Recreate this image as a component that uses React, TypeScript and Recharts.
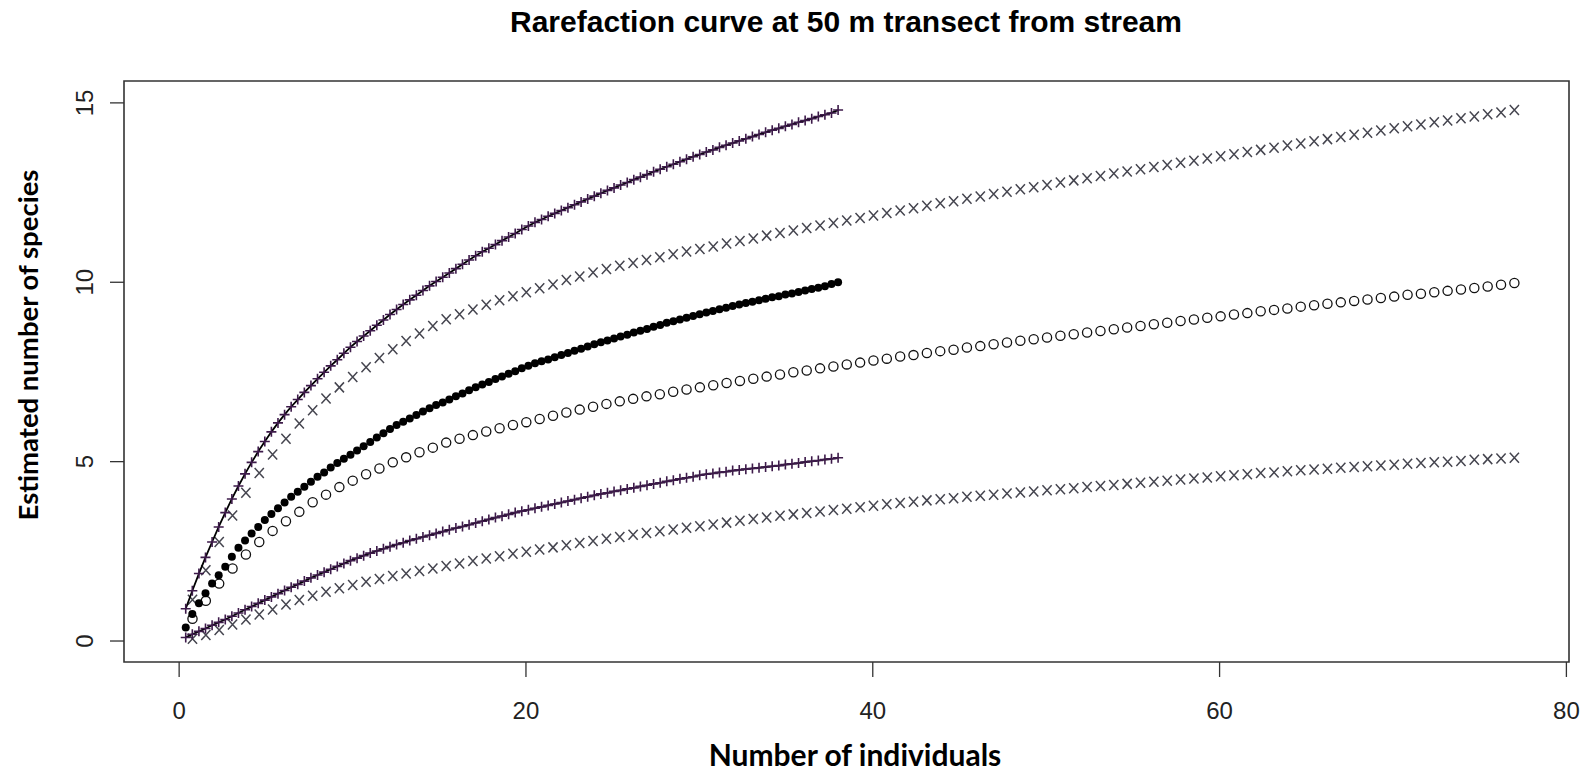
import React from 'react';
import { ScatterChart, Scatter, XAxis, YAxis, ReferenceArea } from 'recharts';

const W = 1586;
const H = 772;
const xDomain: [number, number] = [-3.18, 80.15];
const yDomain: [number, number] = [-0.585, 15.61];

const xTicks = [0, 20, 40, 60, 80];
const yTicks = [0, 5, 10, 15];

const titleText = 'Rarefaction curve at 50 m transect from stream';
const xLabel = 'Number of individuals';
const yLabel = 'Estimated number of species';

// sample sizes (x) of the observed curve
const xObserved = [
  0.38, 0.76, 1.14, 1.52, 1.9, 2.28, 2.66, 3.04, 3.42, 3.8,
  4.18, 4.56, 4.94, 5.32, 5.7, 6.08, 6.46, 6.84, 7.22, 7.6,
  7.98, 8.36, 8.74, 9.12, 9.5, 9.88, 10.26, 10.64, 11.02, 11.4,
  11.78, 12.16, 12.54, 12.92, 13.3, 13.68, 14.06, 14.44, 14.82, 15.2,
  15.58, 15.96, 16.34, 16.72, 17.1, 17.48, 17.86, 18.24, 18.62, 19,
  19.38, 19.76, 20.14, 20.52, 20.9, 21.28, 21.66, 22.04, 22.42, 22.8,
  23.18, 23.56, 23.94, 24.32, 24.7, 25.08, 25.46, 25.84, 26.22, 26.6,
  26.98, 27.36, 27.74, 28.12, 28.5, 28.88, 29.26, 29.64, 30.02, 30.4,
  30.78, 31.16, 31.54, 31.92, 32.3, 32.68, 33.06, 33.44, 33.82, 34.2,
  34.58, 34.96, 35.34, 35.72, 36.1, 36.48, 36.86, 37.24, 37.62, 38,
];

// sample sizes (x) of the extended curve
const xExtended = [
  0.77, 1.54, 2.31, 3.08, 3.85, 4.62, 5.39, 6.16, 6.93, 7.7,
  8.47, 9.24, 10.01, 10.78, 11.55, 12.32, 13.09, 13.86, 14.63, 15.4,
  16.17, 16.94, 17.71, 18.48, 19.25, 20.02, 20.79, 21.56, 22.33, 23.1,
  23.87, 24.64, 25.41, 26.18, 26.95, 27.72, 28.49, 29.26, 30.03, 30.8,
  31.57, 32.34, 33.11, 33.88, 34.65, 35.42, 36.19, 36.96, 37.73, 38.5,
  39.27, 40.04, 40.81, 41.58, 42.35, 43.12, 43.89, 44.66, 45.43, 46.2,
  46.97, 47.74, 48.51, 49.28, 50.05, 50.82, 51.59, 52.36, 53.13, 53.9,
  54.67, 55.44, 56.21, 56.98, 57.75, 58.52, 59.29, 60.06, 60.83, 61.6,
  62.37, 63.14, 63.91, 64.68, 65.45, 66.22, 66.99, 67.76, 68.53, 69.3,
  70.07, 70.84, 71.61, 72.38, 73.15, 73.92, 74.69, 75.46, 76.23, 77,
];

const obsMean = [
  0.38, 0.75, 1.05, 1.33, 1.6, 1.83, 2.07, 2.35, 2.6, 2.8,
  3.0, 3.18, 3.37, 3.54, 3.7, 3.86, 4.02, 4.16, 4.3, 4.44,
  4.58, 4.7, 4.84, 4.96, 5.08, 5.19, 5.31, 5.43, 5.55, 5.67,
  5.79, 5.91, 6.02, 6.11, 6.2, 6.3, 6.4, 6.49, 6.58, 6.65,
  6.73, 6.82, 6.9, 6.99, 7.07, 7.15, 7.22, 7.3, 7.37, 7.45,
  7.52, 7.6, 7.67, 7.74, 7.8, 7.85, 7.91, 7.97, 8.03, 8.09,
  8.15, 8.21, 8.27, 8.33, 8.38, 8.43, 8.49, 8.54, 8.6, 8.65,
  8.7, 8.76, 8.81, 8.87, 8.91, 8.96, 9.01, 9.06, 9.11, 9.16,
  9.2, 9.25, 9.29, 9.34, 9.38, 9.42, 9.46, 9.5, 9.54, 9.58,
  9.61, 9.66, 9.69, 9.73, 9.77, 9.81, 9.85, 9.89, 9.95, 10.0,
];

const obsUpper = [
  0.9, 1.4, 1.88, 2.33, 2.76, 3.18, 3.58, 3.96, 4.32, 4.66,
  4.98, 5.28, 5.56, 5.83, 6.08, 6.31, 6.53, 6.73, 6.93, 7.12,
  7.31, 7.49, 7.67, 7.84, 8.02, 8.19, 8.35, 8.5, 8.65, 8.8,
  8.95, 9.1, 9.24, 9.38, 9.51, 9.64, 9.77, 9.9, 10.02, 10.14,
  10.26, 10.38, 10.5, 10.62, 10.74, 10.85, 10.95, 11.05, 11.16, 11.26,
  11.36, 11.47, 11.57, 11.67, 11.75, 11.84, 11.92, 12.0, 12.08, 12.16,
  12.24, 12.32, 12.4, 12.48, 12.56, 12.63, 12.71, 12.78, 12.86, 12.93,
  13.0, 13.08, 13.15, 13.22, 13.29, 13.36, 13.43, 13.5, 13.56, 13.63,
  13.69, 13.76, 13.82, 13.88, 13.94, 14.0, 14.06, 14.12, 14.18, 14.24,
  14.29, 14.35, 14.4, 14.46, 14.51, 14.56, 14.62, 14.67, 14.72, 14.8,
];

const obsLower = [
  0.1, 0.19, 0.27, 0.35, 0.44, 0.52, 0.6, 0.69, 0.78, 0.87,
  0.96, 1.05, 1.14, 1.23, 1.32, 1.41, 1.5, 1.58, 1.67, 1.76,
  1.84, 1.92, 2.0, 2.08, 2.16, 2.24, 2.31, 2.38, 2.45, 2.51,
  2.57, 2.63, 2.69, 2.74, 2.8, 2.85, 2.9, 2.95, 3.0, 3.05,
  3.1, 3.15, 3.19, 3.24, 3.29, 3.34, 3.39, 3.44, 3.48, 3.53,
  3.58, 3.62, 3.66, 3.7, 3.74, 3.78, 3.82, 3.86, 3.9, 3.94,
  3.98, 4.02, 4.06, 4.1, 4.13, 4.17, 4.2, 4.24, 4.27, 4.31,
  4.34, 4.38, 4.41, 4.45, 4.48, 4.52, 4.55, 4.58, 4.62, 4.65,
  4.67, 4.7, 4.72, 4.75, 4.77, 4.79, 4.81, 4.83, 4.85, 4.87,
  4.89, 4.92, 4.94, 4.96, 4.99, 5.01, 5.03, 5.06, 5.08, 5.11,
];

const extMean = [
  0.62, 1.12, 1.6, 2.02, 2.41, 2.76, 3.07, 3.34, 3.6, 3.87,
  4.08, 4.29, 4.47, 4.65, 4.81, 4.98, 5.12, 5.26, 5.39, 5.53,
  5.64, 5.74, 5.84, 5.93, 6.02, 6.1, 6.19, 6.28, 6.37, 6.45,
  6.53, 6.61, 6.68, 6.75, 6.82, 6.88, 6.95, 7.01, 7.07, 7.13,
  7.19, 7.25, 7.31, 7.37, 7.43, 7.49, 7.54, 7.6, 7.65, 7.71,
  7.76, 7.82, 7.87, 7.93, 7.97, 8.03, 8.08, 8.12, 8.18, 8.22,
  8.27, 8.32, 8.37, 8.41, 8.46, 8.51, 8.55, 8.6, 8.64, 8.69,
  8.74, 8.78, 8.83, 8.87, 8.92, 8.96, 9.01, 9.05, 9.1, 9.14,
  9.19, 9.23, 9.27, 9.32, 9.36, 9.4, 9.44, 9.48, 9.52, 9.56,
  9.6, 9.65, 9.68, 9.72, 9.76, 9.8, 9.84, 9.88, 9.93, 9.98,
];

const extUpper = [
  1.15, 1.97, 2.76, 3.5, 4.13, 4.68, 5.2, 5.64, 6.06, 6.43,
  6.76, 7.07, 7.36, 7.63, 7.89, 8.13, 8.36, 8.57, 8.78, 8.97,
  9.11, 9.24, 9.37, 9.5, 9.61, 9.72, 9.83, 9.94, 10.06, 10.16,
  10.27, 10.37, 10.46, 10.54, 10.62, 10.7, 10.78, 10.86, 10.93, 11.0,
  11.08, 11.15, 11.22, 11.3, 11.37, 11.44, 11.51, 11.58, 11.65, 11.72,
  11.79, 11.86, 11.93, 12.0, 12.06, 12.13, 12.2, 12.26, 12.33, 12.39,
  12.46, 12.52, 12.59, 12.65, 12.71, 12.78, 12.84, 12.9, 12.96, 13.03,
  13.09, 13.15, 13.21, 13.27, 13.33, 13.39, 13.45, 13.51, 13.57, 13.63,
  13.69, 13.75, 13.81, 13.87, 13.93, 13.99, 14.05, 14.11, 14.17, 14.23,
  14.29, 14.35, 14.4, 14.46, 14.51, 14.57, 14.62, 14.68, 14.73, 14.8,
];

const extLower = [
  0.06, 0.17, 0.31, 0.46, 0.6, 0.74, 0.88, 1.02, 1.14, 1.26,
  1.37, 1.47, 1.56, 1.65, 1.73, 1.81, 1.88, 1.95, 2.02, 2.09,
  2.16, 2.23, 2.3, 2.36, 2.43, 2.49, 2.55, 2.61, 2.67, 2.73,
  2.79, 2.85, 2.9, 2.96, 3.01, 3.06, 3.11, 3.16, 3.2, 3.25,
  3.3, 3.35, 3.4, 3.44, 3.49, 3.53, 3.57, 3.61, 3.65, 3.69,
  3.73, 3.77, 3.81, 3.85, 3.88, 3.92, 3.95, 3.98, 4.02, 4.05,
  4.08, 4.11, 4.14, 4.17, 4.2, 4.23, 4.26, 4.29, 4.32, 4.35,
  4.38, 4.41, 4.44, 4.47, 4.5, 4.53, 4.56, 4.59, 4.62, 4.65,
  4.68, 4.7, 4.73, 4.76, 4.78, 4.8, 4.83, 4.85, 4.87, 4.89,
  4.91, 4.94, 4.96, 4.98, 5.0, 5.02, 5.05, 5.07, 5.09, 5.11,
];

const toPoints = (xs: number[], ys: number[]) => xs.map((x, i) => ({ x, y: ys[i] }));

const dataObsMean = toPoints(xObserved, obsMean);
const dataObsUpper = toPoints(xObserved, obsUpper);
const dataObsLower = toPoints(xObserved, obsLower);
const dataExtMean = toPoints(xExtended, extMean);
const dataExtUpper = toPoints(xExtended, extUpper);
const dataExtLower = toPoints(xExtended, extLower);

const tickFont = "'Liberation Sans', Arial, sans-serif";
const labelFont = "Lato, 'Open Sans', sans-serif";

const FilledDot = (p: any) =>
  p.cx == null ? null : <circle cx={p.cx} cy={p.cy} r={4} fill="#000" />;
const OpenRing = (p: any) =>
  p.cx == null ? null : (
    <circle cx={p.cx} cy={p.cy} r={4.6} fill="none" stroke="#111" strokeWidth={1.3} />
  );
const PlusMark = (p: any) =>
  p.cx == null ? null : (
    <path
      d={`M${p.cx - 5},${p.cy}h10M${p.cx},${p.cy - 5}v10`}
      stroke="#3d1a4a"
      strokeWidth={1.6}
      fill="none"
    />
  );
const CrossMark = (p: any) =>
  p.cx == null ? null : (
    <path
      d={`M${p.cx - 4.6},${p.cy - 5}L${p.cx + 4.6},${p.cy + 5}M${p.cx + 4.6},${p.cy - 5}L${p.cx - 4.6},${p.cy + 5}`}
      stroke="#45454f"
      strokeWidth={1.5}
      fill="none"
    />
  );

const XTick = (p: any) => (
  <text x={p.x} y={719} textAnchor="middle" fontFamily={tickFont} fontSize={24} fill="#222">
    {p.payload.value}
  </text>
);
const YTick = (p: any) => (
  <text
    x={93}
    y={p.y}
    transform={`rotate(-90 93 ${p.y})`}
    textAnchor="middle"
    fontFamily={tickFont}
    fontSize={24}
    fill="#222"
  >
    {p.payload.value}
  </text>
);

export default function App() {
  return (
    <div style={{ position: 'absolute', left: 0, top: 0, width: W, height: H, background: '#fff' }}>
      <ScatterChart width={W} height={H} margin={{ top: 81, right: 17, bottom: 0, left: 0 }}>
        <XAxis
          type="number"
          dataKey="x"
          domain={xDomain}
          allowDataOverflow
          ticks={xTicks}
          tick={<XTick />}
          tickSize={15}
          tickLine={{ stroke: '#333', strokeWidth: 1.3 }}
          axisLine={false}
          height={110}
        />
        <YAxis
          type="number"
          dataKey="y"
          domain={yDomain}
          allowDataOverflow
          ticks={yTicks}
          tick={<YTick />}
          tickSize={14}
          tickLine={{ stroke: '#333', strokeWidth: 1.3 }}
          axisLine={false}
          width={124}
        />
        <ReferenceArea
          x1={xDomain[0]}
          x2={xDomain[1]}
          y1={yDomain[0]}
          y2={yDomain[1]}
          fill="none"
          fillOpacity={0}
          stroke="#333"
          strokeWidth={1.6}
          ifOverflow="visible"
        />
        <Scatter data={dataExtUpper} shape={CrossMark} isAnimationActive={false} />
        <Scatter data={dataExtLower} shape={CrossMark} isAnimationActive={false} />
        <Scatter data={dataExtMean} shape={OpenRing} isAnimationActive={false} />
        <Scatter data={dataObsMean} shape={FilledDot} isAnimationActive={false} />
        <Scatter
          data={dataObsUpper}
          shape={PlusMark}
          line={{ stroke: '#000', strokeWidth: 1.8 }}
          lineType="joint"
          isAnimationActive={false}
        />
        <Scatter
          data={dataObsLower}
          shape={PlusMark}
          line={{ stroke: '#000', strokeWidth: 1.8 }}
          lineType="joint"
          isAnimationActive={false}
        />
      </ScatterChart>
      <svg
        width={W}
        height={H}
        style={{ position: 'absolute', left: 0, top: 0, pointerEvents: 'none' }}
      >
        <text
          x={846}
          y={32}
          textAnchor="middle"
          fontFamily={tickFont}
          fontWeight="bold"
          fontSize={30}
          fill="#000"
        >
          {titleText}
        </text>
        <text
          x={855}
          y={766}
          textAnchor="middle"
          fontFamily={labelFont}
          fontWeight="bold"
          fontSize={30}
          fill="#000"
        >
          {xLabel}
        </text>
        <text
          x={38}
          y={345}
          transform="rotate(-90 38 345)"
          textAnchor="middle"
          fontFamily={labelFont}
          fontWeight="bold"
          fontSize={27.5}
          fill="#000"
        >
          {yLabel}
        </text>
      </svg>
    </div>
  );
}
